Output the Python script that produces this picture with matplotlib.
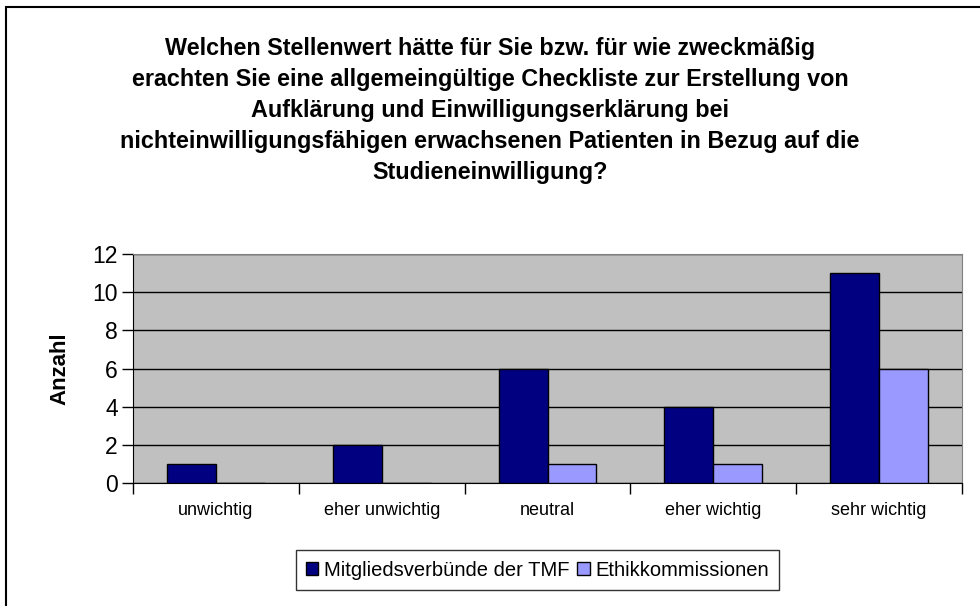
import matplotlib.pyplot as plt
import numpy as np
from matplotlib.patches import Rectangle

plt.rcParams['font.family'] = ['Liberation Sans', 'DejaVu Sans']

categories = ['unwichtig', 'eher unwichtig', 'neutral', 'eher wichtig', 'sehr wichtig']
tmf = [1, 2, 6, 4, 11]
ethik = [0, 0, 1, 1, 6]
series_names = ['Mitgliedsverbünde der TMF', 'Ethikkommissionen']
title = ('Welchen Stellenwert hätte für Sie bzw. für wie zweckmäßig\n'
         'erachten Sie eine allgemeingültige Checkliste zur Erstellung von\n'
         'Aufklärung und Einwilligungserklärung bei\n'
         'nichteinwilligungsfähigen erwachsenen Patienten in Bezug auf die\n'
         'Studieneinwilligung?')

W, H = 980, 606
fig = plt.figure(figsize=(W / 100, H / 100), dpi=100)
ax = fig.add_axes([133 / W, 1 - 483 / H, (962 - 133) / W, (483 - 254) / H])

# outer chart frame (cut off on the right and bottom like the source)
fig.patches.append(Rectangle((6 / W, -0.05), 1.1, 1 - 7 / H + 0.05, transform=fig.transFigure,
                             fill=False, edgecolor='black', linewidth=1.5))

fig.text(0.5, 1 - 37 / H, title, ha='center', va='top', fontsize=16.8, fontweight='bold',
         linespacing=1.44)

x = np.arange(len(categories))
w = 0.295
ax.bar(x - w / 2, tmf, w, color='#000080', edgecolor='black', linewidth=1, label=series_names[0], zorder=3)
ax.bar(x + w / 2, ethik, w, color='#9999FF', edgecolor='black', linewidth=1, label=series_names[1], zorder=3)

ax.set_facecolor('#C0C0C0')
ax.set_xlim(-0.5, len(categories) - 0.5)
ax.set_ylim(0, 12)
ax.set_yticks(range(0, 13, 2))
ax.yaxis.grid(True, color='black', linewidth=1)
ax.set_axisbelow(True)
ax.tick_params(axis='y', labelsize=16.5, length=8, width=1, direction='out', pad=3)
ax.set_xticks(np.arange(len(categories) + 1) - 0.5)
ax.set_xticklabels([])
ax.tick_params(axis='x', length=8, width=1, direction='out')
ax.set_xticks(x, minor=True)
ax.set_xticklabels(categories, minor=True)
ax.tick_params(axis='x', which='minor', length=0, labelsize=13, pad=14)
for s in ['top', 'right']:
    ax.spines[s].set_color('#808080')
for s in ['left', 'bottom']:
    ax.spines[s].set_color('black')

ax.set_ylabel('Anzahl', fontsize=16, fontweight='bold', labelpad=16)

leg = fig.legend(loc='center', bbox_to_anchor=(537.5 / W, 1 - 570 / H), ncol=2, fontsize=14.5,
                 frameon=True, fancybox=False, edgecolor='black', handlelength=0.6,
                 handleheight=0.6, handletextpad=0.3, columnspacing=0.4, borderpad=0.5)
leg.get_frame().set_linewidth(1)

fig.savefig('out.png', dpi=100)
